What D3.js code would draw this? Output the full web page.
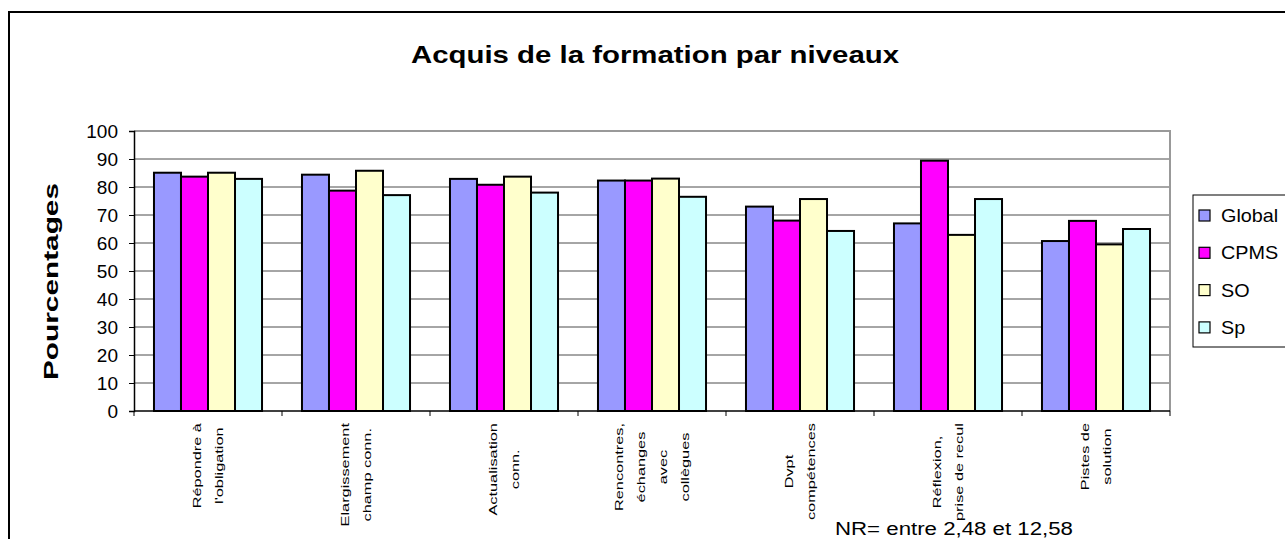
<!DOCTYPE html>
<html>
<head>
<meta charset="utf-8">
<script src="https://cdn.jsdelivr.net/npm/d3@7"></script>
<style>
  body { margin: 0; background: #fff; }
  text { font-family: "Liberation Sans", Arial, sans-serif; }
</style>
</head>
<body>
<script>
// chart data
const categories = ["Répondre à\nl'obligation", "Elargissement\nchamp conn.", "Actualisation\nconn.",
  "Rencontres,\néchanges\navec\ncollègues", "Dvpt\ncompétences", "Réflexion,\nprise de recul", "Pistes de\nsolution"]
const series = ["Global", "CPMS", "SO", "Sp"]
const colors = ["#9999ff", "#ff00ff", "#ffffcc", "#ccffff"]
const globalVals = [85.1, 84.4, 82.9, 82.3, 73.0, 67.0, 60.7]
const cpmsVals   = [83.7, 78.7, 80.8, 82.3, 68.0, 89.4, 67.9]
const soVals     = [85.1, 85.8, 83.7, 83.0, 75.7, 62.9, 59.5]
const spVals     = [82.9, 77.1, 78.0, 76.5, 64.3, 75.7, 65.0]
const yTicks = [0, 10, 20, 30, 40, 50, 60, 70, 80, 90, 100]

const W = 1285, H = 539
const plot = {left: 134, right: 1170, top: 131, bottom: 411}

const svg = d3.select("body").append("svg")
  .attr("width", W).attr("height", H)

// outer chart border
svg.append("rect")
  .attr("x", 9).attr("y", 12)
  .attr("width", W + 20).attr("height", H + 20)
  .attr("fill", "none").attr("stroke", "#000").attr("stroke-width", 2)

// title
svg.append("text")
  .attr("x", 655).attr("y", 63)
  .attr("text-anchor", "middle")
  .attr("font-size", "24px").attr("font-weight", "bold")
  .attr("textLength", 488).attr("lengthAdjust", "spacingAndGlyphs")
  .text("Acquis de la formation par niveaux")

// scales
const y = d3.scaleLinear().domain([0, 100]).range([plot.bottom, plot.top])
const x0 = d3.scaleBand().domain(categories).range([plot.left, plot.right])
  .paddingInner(0.27).paddingOuter(0.135)
const x1 = d3.scaleBand().domain(series).range([0, x0.bandwidth()])
const color = d3.scaleOrdinal().domain(series).range(colors)

// gridlines
svg.append("g")
  .selectAll("line")
  .data(yTicks.filter(d => d > 0 && d < 100))
  .enter().append("line")
  .attr("x1", plot.left).attr("x2", plot.right)
  .attr("y1", d => y(d)).attr("y2", d => y(d))
  .attr("stroke", "#4d4d4d").attr("stroke-width", 1)

// top & right plot border (grey)
svg.append("path")
  .attr("d", `M${plot.left},${y(100)}H${plot.right}V${plot.bottom}`)
  .attr("fill", "none").attr("stroke", "#999").attr("stroke-width", 2)

// bars
const rows = categories.map((c, i) => ({
  cat: c,
  vals: [globalVals[i], cpmsVals[i], soVals[i], spVals[i]]
}))

const groups = svg.append("g").selectAll("g")
  .data(rows).enter().append("g")
  .attr("transform", d => `translate(${x0(d.cat)},0)`)

groups.selectAll("rect")
  .data(d => d.vals.map((v, j) => ({s: series[j], v: v})))
  .enter().append("rect")
  .attr("x", d => x1(d.s))
  .attr("y", d => y(d.v))
  .attr("width", x1.bandwidth())
  .attr("height", d => y(0) - y(d.v))
  .attr("fill", d => color(d.s))
  .attr("stroke", "#000").attr("stroke-width", 2)

// y axis
const yAxis = svg.append("g")
  .attr("transform", `translate(${plot.left},0)`)
  .call(d3.axisLeft(y).tickValues(yTicks).tickSize(5).tickPadding(11))
yAxis.select(".domain").attr("stroke", "#000").attr("stroke-width", 1.5)
yAxis.selectAll(".tick line").attr("stroke", "#000")
yAxis.selectAll(".tick text")
  .attr("font-size", "19px").attr("fill", "#000")
  .attr("font-family", "Liberation Sans, Arial, sans-serif")

// x axis line + ticks at category boundaries
svg.append("line")
  .attr("x1", plot.left).attr("x2", plot.right)
  .attr("y1", plot.bottom).attr("y2", plot.bottom)
  .attr("stroke", "#000").attr("stroke-width", 1.5)
svg.append("g").selectAll("line")
  .data(d3.range(categories.length + 1))
  .enter().append("line")
  .attr("x1", i => plot.left + i * x0.step()).attr("x2", i => plot.left + i * x0.step())
  .attr("y1", plot.bottom).attr("y2", plot.bottom + 5)
  .attr("stroke", "#000")

// category labels (rotated, multi-line, stretched along reading direction)
const stretch = 1.42, lineGap = 22
categories.forEach(c => {
  const lines = c.split("\n")
  const cx = x0(c) + x0.bandwidth() / 2
  const g = svg.append("g")
  const texts = lines.map((ln, i) => g.append("text")
    .attr("font-size", "11.5px")
    .attr("text-anchor", "middle")
    .text(ln))
  const maxLen = d3.max(texts, t => t.node().getComputedTextLength()) * stretch
  const cy = 423 + maxLen / 2
  texts.forEach((t, i) => {
    const bx = cx + (i - (lines.length - 1) / 2) * lineGap + 4
    t.attr("transform", `translate(${bx},${cy}) rotate(-90) scale(${stretch},1)`)
  })
})

// y axis title
svg.append("text")
  .attr("transform", "translate(58,281.5) rotate(-90)")
  .attr("text-anchor", "middle")
  .attr("font-size", "20px").attr("font-weight", "bold")
  .attr("textLength", 197).attr("lengthAdjust", "spacingAndGlyphs")
  .text("Pourcentages")

// legend
const legend = svg.append("g")
legend.append("rect")
  .attr("x", 1193).attr("y", 195)
  .attr("width", 120).attr("height", 152)
  .attr("fill", "#fff").attr("stroke", "#000").attr("stroke-width", 1)
const items = legend.selectAll("g.item")
  .data(series).enter().append("g")
  .attr("class", "item")
  .attr("transform", (d, i) => `translate(1199,${215.5 + i * 37.3})`)
items.append("rect")
  .attr("x", 0).attr("y", -5.5)
  .attr("width", 11).attr("height", 11)
  .attr("fill", d => color(d))
  .attr("stroke", "#000").attr("stroke-width", 1.2)
items.append("text")
  .attr("transform", "translate(22,0) scale(1.1,1)")
  .attr("dy", "0.36em")
  .attr("font-size", "18px")
  .text(d => d)

// footnote
svg.append("text")
  .attr("x", 835).attr("y", 535)
  .attr("font-size", "18px")
  .attr("textLength", 238).attr("lengthAdjust", "spacingAndGlyphs")
  .text("NR= entre 2,48 et 12,58")
</script>
</body>
</html>
